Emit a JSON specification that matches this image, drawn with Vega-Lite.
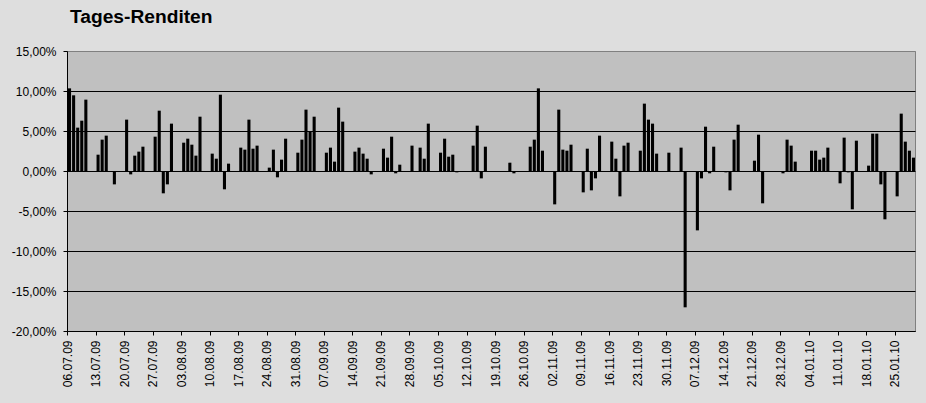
{
  "$schema": "https://vega.github.io/schema/vega-lite/v6.json",
  "width": 848,
  "height": 280,
  "autosize": "none",
  "padding": {"left": 67, "top": 51, "right": 11, "bottom": 72},
  "background": "#dedede",
  "title": {
    "text": "Tages-Renditen",
    "anchor": "start",
    "frame": "group",
    "dx": 3,
    "offset": 3,
    "baseline": "alphabetic",
    "font": "Liberation Sans",
    "fontSize": 19.2,
    "fontWeight": "bold",
    "color": "black"
  },
  "data": {
    "values": [
      {"d": "2009-07-06", "r": 0.1033},
      {"d": "2009-07-07", "r": 0.0946},
      {"d": "2009-07-08", "r": 0.0542},
      {"d": "2009-07-09", "r": 0.0629},
      {"d": "2009-07-10", "r": 0.0892},
      {"d": "2009-07-13", "r": 0.0204},
      {"d": "2009-07-14", "r": 0.0392},
      {"d": "2009-07-15", "r": 0.0442},
      {"d": "2009-07-17", "r": -0.0167},
      {"d": "2009-07-20", "r": 0.0642},
      {"d": "2009-07-21", "r": -0.0042},
      {"d": "2009-07-22", "r": 0.0192},
      {"d": "2009-07-23", "r": 0.0242},
      {"d": "2009-07-24", "r": 0.0304},
      {"d": "2009-07-27", "r": 0.0429},
      {"d": "2009-07-28", "r": 0.0754},
      {"d": "2009-07-29", "r": -0.0279},
      {"d": "2009-07-30", "r": -0.0167},
      {"d": "2009-07-31", "r": 0.0592},
      {"d": "2009-08-03", "r": 0.0354},
      {"d": "2009-08-04", "r": 0.0404},
      {"d": "2009-08-05", "r": 0.0329},
      {"d": "2009-08-06", "r": 0.0192},
      {"d": "2009-08-07", "r": 0.0679},
      {"d": "2009-08-10", "r": 0.0217},
      {"d": "2009-08-11", "r": 0.0154},
      {"d": "2009-08-12", "r": 0.0954},
      {"d": "2009-08-13", "r": -0.0229},
      {"d": "2009-08-14", "r": 0.0092},
      {"d": "2009-08-17", "r": 0.0292},
      {"d": "2009-08-18", "r": 0.0267},
      {"d": "2009-08-19", "r": 0.0642},
      {"d": "2009-08-20", "r": 0.0279},
      {"d": "2009-08-21", "r": 0.0317},
      {"d": "2009-08-24", "r": 0.0042},
      {"d": "2009-08-25", "r": 0.0267},
      {"d": "2009-08-26", "r": -0.0079},
      {"d": "2009-08-27", "r": 0.0142},
      {"d": "2009-08-28", "r": 0.0404},
      {"d": "2009-08-31", "r": 0.0229},
      {"d": "2009-09-01", "r": 0.0392},
      {"d": "2009-09-02", "r": 0.0767},
      {"d": "2009-09-03", "r": 0.0492},
      {"d": "2009-09-04", "r": 0.0679},
      {"d": "2009-09-07", "r": 0.0229},
      {"d": "2009-09-08", "r": 0.0292},
      {"d": "2009-09-09", "r": 0.0117},
      {"d": "2009-09-10", "r": 0.0792},
      {"d": "2009-09-11", "r": 0.0617},
      {"d": "2009-09-14", "r": 0.0242},
      {"d": "2009-09-15", "r": 0.0292},
      {"d": "2009-09-16", "r": 0.0217},
      {"d": "2009-09-17", "r": 0.0154},
      {"d": "2009-09-18", "r": -0.0042},
      {"d": "2009-09-21", "r": 0.0279},
      {"d": "2009-09-22", "r": 0.0167},
      {"d": "2009-09-23", "r": 0.0429},
      {"d": "2009-09-24", "r": -0.0029},
      {"d": "2009-09-25", "r": 0.0079},
      {"d": "2009-09-28", "r": 0.0317},
      {"d": "2009-09-30", "r": 0.0292},
      {"d": "2009-10-01", "r": 0.0154},
      {"d": "2009-10-02", "r": 0.0592},
      {"d": "2009-10-05", "r": 0.0229},
      {"d": "2009-10-06", "r": 0.0404},
      {"d": "2009-10-07", "r": 0.0179},
      {"d": "2009-10-08", "r": 0.0204},
      {"d": "2009-10-09", "r": -0.0017},
      {"d": "2009-10-13", "r": 0.0317},
      {"d": "2009-10-14", "r": 0.0567},
      {"d": "2009-10-15", "r": -0.0092},
      {"d": "2009-10-16", "r": 0.0304},
      {"d": "2009-10-22", "r": 0.0104},
      {"d": "2009-10-23", "r": -0.0029},
      {"d": "2009-10-27", "r": 0.0304},
      {"d": "2009-10-28", "r": 0.0392},
      {"d": "2009-10-29", "r": 0.1033},
      {"d": "2009-10-30", "r": 0.0254},
      {"d": "2009-11-02", "r": -0.0417},
      {"d": "2009-11-03", "r": 0.0767},
      {"d": "2009-11-04", "r": 0.0267},
      {"d": "2009-11-05", "r": 0.0254},
      {"d": "2009-11-06", "r": 0.0329},
      {"d": "2009-11-09", "r": -0.0267},
      {"d": "2009-11-10", "r": 0.0279},
      {"d": "2009-11-11", "r": -0.0242},
      {"d": "2009-11-12", "r": -0.0092},
      {"d": "2009-11-13", "r": 0.0442},
      {"d": "2009-11-16", "r": 0.0367},
      {"d": "2009-11-17", "r": 0.0154},
      {"d": "2009-11-18", "r": -0.0317},
      {"d": "2009-11-19", "r": 0.0317},
      {"d": "2009-11-20", "r": 0.0354},
      {"d": "2009-11-23", "r": 0.0254},
      {"d": "2009-11-24", "r": 0.0842},
      {"d": "2009-11-25", "r": 0.0642},
      {"d": "2009-11-26", "r": 0.0592},
      {"d": "2009-11-27", "r": 0.0217},
      {"d": "2009-11-30", "r": 0.0229},
      {"d": "2009-12-03", "r": 0.0292},
      {"d": "2009-12-04", "r": -0.1704},
      {"d": "2009-12-07", "r": -0.0742},
      {"d": "2009-12-08", "r": -0.0092},
      {"d": "2009-12-09", "r": 0.0554},
      {"d": "2009-12-10", "r": -0.0029},
      {"d": "2009-12-11", "r": 0.0304},
      {"d": "2009-12-14", "r": -0.0017},
      {"d": "2009-12-15", "r": -0.0242},
      {"d": "2009-12-16", "r": 0.0392},
      {"d": "2009-12-17", "r": 0.0579},
      {"d": "2009-12-21", "r": 0.0129},
      {"d": "2009-12-22", "r": 0.0454},
      {"d": "2009-12-23", "r": -0.0404},
      {"d": "2009-12-28", "r": -0.0029},
      {"d": "2009-12-29", "r": 0.0392},
      {"d": "2009-12-30", "r": 0.0317},
      {"d": "2009-12-31", "r": 0.0117},
      {"d": "2010-01-04", "r": 0.0254},
      {"d": "2010-01-05", "r": 0.0254},
      {"d": "2010-01-06", "r": 0.0142},
      {"d": "2010-01-07", "r": 0.0167},
      {"d": "2010-01-08", "r": 0.0292},
      {"d": "2010-01-11", "r": -0.0154},
      {"d": "2010-01-12", "r": 0.0417},
      {"d": "2010-01-13", "r": -0.0017},
      {"d": "2010-01-14", "r": -0.0479},
      {"d": "2010-01-15", "r": 0.0379},
      {"d": "2010-01-18", "r": 0.0067},
      {"d": "2010-01-19", "r": 0.0467},
      {"d": "2010-01-20", "r": 0.0467},
      {"d": "2010-01-21", "r": -0.0167},
      {"d": "2010-01-22", "r": -0.0604},
      {"d": "2010-01-25", "r": -0.0317},
      {"d": "2010-01-26", "r": 0.0717},
      {"d": "2010-01-27", "r": 0.0367},
      {"d": "2010-01-28", "r": 0.0254},
      {"d": "2010-01-29", "r": 0.0167}
    ]
  },
  "mark": {"type": "bar", "color": "black", "timeUnitBandSize": 0.5},
  "encoding": {
    "x": {
      "field": "d",
      "type": "temporal",
      "timeUnit": "utcyearmonthdate",
      "scale": {
        "type": "utc",
        "nice": false,
        "padding": 0,
        "domain": [
          {"year": 2009, "month": 7, "date": 6, "utc": true},
          {"year": 2010, "month": 1, "date": 30, "utc": true}
        ]
      },
      "axis": {
        "title": null,
        "grid": false,
        "labelExpr": "utcFormat(datum.value, '%d.%m.%y')",
        "labelAngle": 270,
        "labelPadding": 5,
        "labelOverlap": false,
        "labelFlush": false,
        "values": [
          {"year": 2009, "month": 7, "date": 6, "utc": true},
          {"year": 2009, "month": 7, "date": 13, "utc": true},
          {"year": 2009, "month": 7, "date": 20, "utc": true},
          {"year": 2009, "month": 7, "date": 27, "utc": true},
          {"year": 2009, "month": 8, "date": 3, "utc": true},
          {"year": 2009, "month": 8, "date": 10, "utc": true},
          {"year": 2009, "month": 8, "date": 17, "utc": true},
          {"year": 2009, "month": 8, "date": 24, "utc": true},
          {"year": 2009, "month": 8, "date": 31, "utc": true},
          {"year": 2009, "month": 9, "date": 7, "utc": true},
          {"year": 2009, "month": 9, "date": 14, "utc": true},
          {"year": 2009, "month": 9, "date": 21, "utc": true},
          {"year": 2009, "month": 9, "date": 28, "utc": true},
          {"year": 2009, "month": 10, "date": 5, "utc": true},
          {"year": 2009, "month": 10, "date": 12, "utc": true},
          {"year": 2009, "month": 10, "date": 19, "utc": true},
          {"year": 2009, "month": 10, "date": 26, "utc": true},
          {"year": 2009, "month": 11, "date": 2, "utc": true},
          {"year": 2009, "month": 11, "date": 9, "utc": true},
          {"year": 2009, "month": 11, "date": 16, "utc": true},
          {"year": 2009, "month": 11, "date": 23, "utc": true},
          {"year": 2009, "month": 11, "date": 30, "utc": true},
          {"year": 2009, "month": 12, "date": 7, "utc": true},
          {"year": 2009, "month": 12, "date": 14, "utc": true},
          {"year": 2009, "month": 12, "date": 21, "utc": true},
          {"year": 2009, "month": 12, "date": 28, "utc": true},
          {"year": 2010, "month": 1, "date": 4, "utc": true},
          {"year": 2010, "month": 1, "date": 11, "utc": true},
          {"year": 2010, "month": 1, "date": 18, "utc": true},
          {"year": 2010, "month": 1, "date": 25, "utc": true}
        ]
      }
    },
    "y": {
      "field": "r",
      "type": "quantitative",
      "scale": {"domain": [-0.2, 0.15], "nice": false},
      "axis": {
        "title": null,
        "values": [-0.2, -0.15, -0.1, -0.05, 0, 0.05, 0.1, 0.15],
        "format": ".2%",
        "grid": true,
        "gridOpacity": 1,
        "gridColor": {"condition": {"test": "datum.value > 0.149", "value": "#808080"}, "value": "black"},
        "labelPadding": 7
      }
    }
  },
  "config": {
    "locale": {
      "number": {"decimal": ",", "thousands": ".", "grouping": [3], "currency": ["", " €"], "minus": "-"}
    },
    "view": {"stroke": "#808080", "fill": "#c0c0c0"},
    "axis": {
      "labelFont": "Liberation Sans",
      "labelFontSize": 12,
      "labelColor": "black",
      "tickColor": "black",
      "domainColor": "black",
      "tickSize": 4,
      "tickWidth": 1,
      "domainWidth": 1
    }
  }
}
